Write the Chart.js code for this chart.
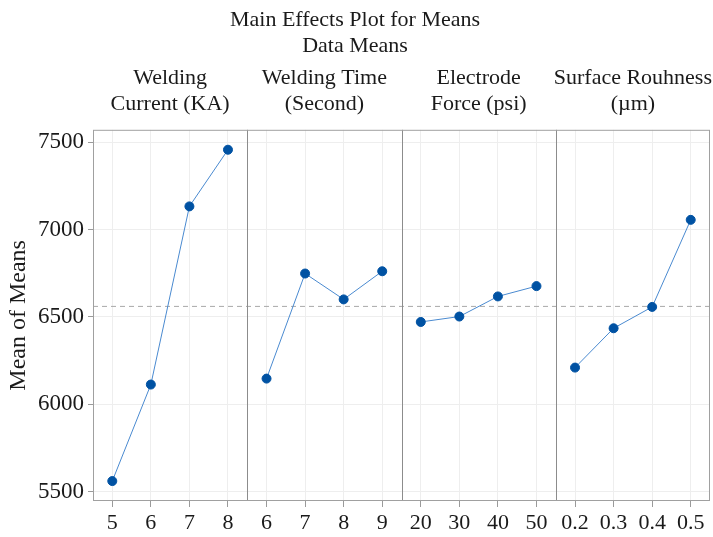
<!DOCTYPE html>
<html>
<head>
<meta charset="utf-8">
<script src="https://cdn.jsdelivr.net/npm/chart.js@4"></script>
<style>
  html, body { margin: 0; padding: 0; background: #fff; }
  #wrap { width: 713px; height: 537px; }
</style>
</head>
<body>
<div id="wrap"><canvas id="effectsChart" width="713" height="537"></canvas></div>
<script>
// factor levels and the mean response read at each level
const panelTitles = [["Welding", "Current (KA)"], ["Welding Time", "(Second)"], ["Electrode", "Force (psi)"], ["Surface Rouhness", "(µm)"]];
const currentLevels = ["5", "6", "7", "8"];
const currentMeans = [5561, 6113, 7132, 7456];
const timeLevels = ["6", "7", "8", "9"];
const timeMeans = [6147, 6748, 6600, 6761];
const forceLevels = ["20", "30", "40", "50"];
const forceMeans = [6471, 6502, 6617, 6676];
const roughLevels = ["0.2", "0.3", "0.4", "0.5"];
const roughMeans = [6210, 6435, 6557, 7055];
const grandMean = 6560;
const yTicks = [5500, 6000, 6500, 7000, 7500];

let levels = [currentLevels, timeLevels, forceLevels, roughLevels];
let means = [currentMeans, timeMeans, forceMeans, roughMeans];
let allLabels = [].concat(...levels);

// each factor only fills its own four slots, the rest stay null so lines break
let datasets = means.map((vals, i) => {
    let start = levels.slice(0, i).reduce((n, l) => n + l.length, 0);
    let data = allLabels.map(() => null);
    vals.forEach((v, j) => { data[start + j] = v; });
    return {
        data: data,
        borderColor: "#4a8ad0",
        borderWidth: 1,
        pointBackgroundColor: "#0052a3",
        pointBorderColor: "#0052a3",
        pointRadius: 4.5,
        spanGaps: false,
        fill: false
    };
});

const panelFrame = {
    id: "panelFrame",
    beforeDatasetsDraw(chart) {
        let ctx = chart.ctx;
        let a = chart.chartArea;
        let x = chart.scales.x;
        let y = chart.scales.y;
        ctx.save();
        // grand mean reference line
        let gy = y.getPixelForValue(grandMean);
        ctx.strokeStyle = "#a8a8a8";
        ctx.lineWidth = 1;
        ctx.setLineDash([5, 4]);
        ctx.beginPath();
        ctx.moveTo(a.left, gy);
        ctx.lineTo(a.right, gy);
        ctx.stroke();
        ctx.setLineDash([]);
        // dividers between factors
        ctx.strokeStyle = "#8c8c8c";
        let pos = 0;
        levels.slice(0, -1).forEach(l => {
            pos += l.length;
            let px = Math.round(x.getPixelForValue(pos - 0.5)) + 0.5;
            ctx.beginPath();
            ctx.moveTo(px, a.top);
            ctx.lineTo(px, a.bottom);
            ctx.stroke();
        });
        ctx.strokeStyle = "#a0a0a0";
        ctx.strokeRect(a.left + 0.5, a.top + 0.5, a.right - a.left - 1, a.bottom - a.top - 1);
        ctx.restore();
    }
};

function noSidePadding(axis) {
    axis.paddingLeft = 0;
    axis.paddingRight = 0;
}

new Chart(document.getElementById("effectsChart"), {
    type: "line",
    data: { labels: allLabels, datasets: datasets },
    plugins: [panelFrame],
    options: {
        responsive: false,
        animation: false,
        layout: { autoPadding: false, padding: { left: 0, right: 3, top: 0, bottom: 0 } },
        plugins: {
            legend: { display: false },
            tooltip: { enabled: false },
            title: {
                display: true,
                text: ["Main Effects Plot for Means", "Data Means"],
                color: "#1a1a1a",
                font: { family: "Liberation Serif", size: 22, weight: "normal", lineHeight: 1.2 },
                padding: { top: 7, bottom: 0 }
            }
        },
        scales: {
            x: {
                type: "category",
                offset: true,
                afterFit: axis => { noSidePadding(axis); axis.height = 36; },
                grid: { offset: false, color: "#eeeeee", tickColor: "#9a9a9a", tickLength: 6 },
                border: { display: false },
                ticks: {
                    autoSkip: false,
                    maxRotation: 0,
                    color: "#1a1a1a",
                    padding: 3,
                    font: { family: "Liberation Serif", size: 22 }
                }
            },
            xTop: {
                type: "category",
                position: "top",
                labels: panelTitles,
                offset: true,
                afterFit: axis => { noSidePadding(axis); axis.height = 70; },
                grid: { display: false, drawTicks: false },
                border: { display: false },
                ticks: {
                    autoSkip: false,
                    maxRotation: 0,
                    color: "#1a1a1a",
                    padding: 12,
                    font: { family: "Liberation Serif", size: 22, lineHeight: 1.2 }
                }
            },
            y: {
                min: 5447,
                max: 7570,
                afterBuildTicks: axis => { axis.ticks = yTicks.map(v => ({ value: v })); },
                afterFit: axis => { axis.width = 93; },
                grid: { color: "#eeeeee", tickColor: "#9a9a9a", tickLength: 5 },
                border: { display: false },
                ticks: {
                    color: "#1a1a1a",
                    padding: 4,
                    callback: v => String(v),
                    font: { family: "Liberation Serif", size: 23 }
                },
                title: {
                    display: true,
                    text: "Mean of Means",
                    color: "#1a1a1a",
                    padding: 4,
                    font: { family: "Liberation Serif", size: 24 }
                }
            }
        }
    }
});
</script>
</body>
</html>
